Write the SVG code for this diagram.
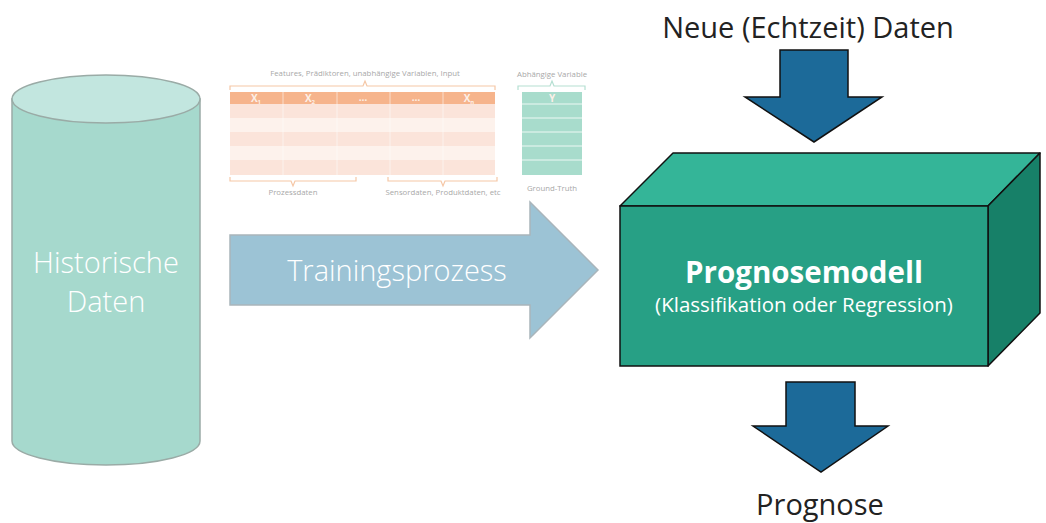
<svg xmlns="http://www.w3.org/2000/svg" width="1046" height="523" viewBox="0 0 1046 523">
<style>
.lt{font-family:"Open Sans","Liberation Sans",sans-serif;font-weight:300;fill:#ffffff;text-anchor:middle}
.dk{font-family:"Open Sans","Liberation Sans",sans-serif;font-weight:400;fill:#222222;text-anchor:middle}
.sm{font-family:"Open Sans","Liberation Sans",sans-serif;font-size:7.8px;fill:#a8a8a8;text-anchor:middle}
.hd{font-family:"Open Sans","Liberation Sans",sans-serif;font-size:10px;font-weight:700;fill:#fdf0e8;text-anchor:middle}
.blue{fill:#1c6a99;stroke:#111111;stroke-width:1.5}
.brk{fill:none;stroke-width:1.2}
</style>
<rect width="1046" height="523" fill="#ffffff"/>
<g id="historische-daten">
<path d="M12,99 L12,441 A94,24 0 0 0 200,441 L200,99 Z" fill="#a6d9cd" stroke="#9aaba6" stroke-width="1.5"/>
<ellipse cx="106" cy="99" rx="94" ry="24" fill="#c2e6df" stroke="#9aaba6" stroke-width="1.5"/>
<text class="lt" x="106" y="273" font-size="29">Historische</text>
<text class="lt" x="106" y="312" font-size="29">Daten</text>
</g>
<g id="tabelle">
<text class="sm" x="365" y="76">Features, Prädiktoren, unabhängige Variablen, Input</text>
<path class="brk" stroke="#f5c7a6" d="M230,90 L230,86 L363,86 L365,81 L367,86 L495,86 L495,90"/>
<rect x="230" y="92" width="265" height="12" fill="#f6b48c"/>
<rect x="230" y="104" width="265" height="14" fill="#fbe4da"/>
<rect x="230" y="118" width="265" height="14" fill="#fdf2ec"/>
<rect x="230" y="132" width="265" height="14" fill="#fbe4da"/>
<rect x="230" y="146" width="265" height="14" fill="#fdf2ec"/>
<rect x="230" y="160" width="265" height="15" fill="#fbe4da"/>
<g stroke="#ffffff" stroke-width="0.8" opacity="0.7">
<line x1="283" y1="92" x2="283" y2="175"/><line x1="337" y1="92" x2="337" y2="175"/>
<line x1="390" y1="92" x2="390" y2="175"/><line x1="443" y1="92" x2="443" y2="175"/>
</g>
<text class="hd" x="256" y="101.5">X<tspan font-size="6" dy="2">1</tspan></text>
<text class="hd" x="310" y="101.5">X<tspan font-size="6" dy="2">2</tspan></text>
<text class="hd" x="363" y="101">…</text>
<text class="hd" x="416" y="101">…</text>
<text class="hd" x="469" y="101.5">X<tspan font-size="6" dy="2">n</tspan></text>
<path class="brk" stroke="#f5c7a6" d="M230,177 L230,181 L291,181 L293,186 L295,181 L356,181 L356,177"/>
<path class="brk" stroke="#f5c7a6" d="M388,177 L388,181 L441,181 L443,186 L445,181 L497,181 L497,177"/>
<text class="sm" x="293" y="195">Prozessdaten</text>
<text class="sm" x="443" y="195">Sensordaten, Produktdaten, etc</text>
<text class="sm" x="552" y="77">Abhängige Variable</text>
<path class="brk" stroke="#b5dfd2" d="M518,90 L518,86 L550,86 L552,81 L554,86 L585,86 L585,90"/>
<rect x="522" y="92" width="60" height="83" fill="#a8dccc"/>
<g stroke="#ffffff" stroke-width="0.8">
<line x1="522" y1="104" x2="582" y2="104"/><line x1="522" y1="118" x2="582" y2="118"/>
<line x1="522" y1="132" x2="582" y2="132"/><line x1="522" y1="146" x2="582" y2="146"/>
<line x1="522" y1="160" x2="582" y2="160"/>
</g>
<text class="hd" x="552" y="101.5" fill="#eefaf6">Y</text>
<text class="sm" x="552" y="191">Ground-Truth</text>
</g>
<g id="connectors">
<g id="trainingsprozess">
<path d="M230,235 L530,235 L530,202 L598,270 L530,338 L530,305 L230,305 Z" fill="#9cc3d5" stroke="#a9b5bb" stroke-width="1.5"/>
<text class="lt" x="397" y="281" font-size="29">Trainingsprozess</text>
</g>
<path class="blue" d="M780,50 L848,50 L848,97 L882,97 L814,142 L745,97 L780,97 Z"/>
<path class="blue" d="M786,382 L855,382 L855,426 L888,426 L821,472 L753,426 L786,426 Z"/>
</g>
<g id="neue-daten">
<text class="dk" x="808" y="38" font-size="29">Neue (Echtzeit) Daten</text>
</g>
<g id="prognosemodell">
<path d="M620,206 L673,153 L1040,153 L988,206 Z" fill="#34b598" stroke="#111111" stroke-width="1.5" stroke-linejoin="round"/>
<path d="M988,206 L1040,153 L1040,313 L988,366 Z" fill="#178068" stroke="#111111" stroke-width="1.5" stroke-linejoin="round"/>
<rect x="620" y="206" width="368" height="160" fill="#27a085" stroke="#111111" stroke-width="1.5"/>
<text x="804" y="283" font-family="Open Sans, Liberation Sans, sans-serif" font-weight="700" font-size="29.5" fill="#ffffff" text-anchor="middle">Prognosemodell</text>
<text class="lt" x="804" y="312" font-size="20.5" style="font-weight:400">(Klassifikation oder Regression)</text>
</g>
<g id="prognose">
<text class="dk" x="820" y="515" font-size="29">Prognose</text>
</g>
</svg>
